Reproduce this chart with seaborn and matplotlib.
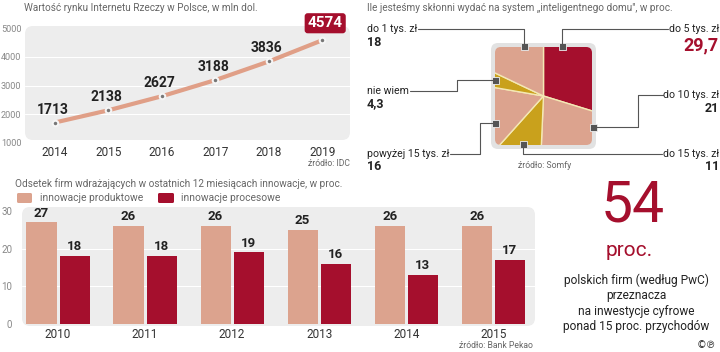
import pandas as pd
import seaborn as sns
import matplotlib.pyplot as plt
from matplotlib.patches import FancyBboxPatch, Rectangle

# --- data ---
iot_years = [2014, 2015, 2016, 2017, 2018, 2019]
iot_values = [1713, 2138, 2627, 3188, 3836, 4574]

home_labels = ["do 5 tys. zł", "do 10 tys. zł", "do 15 tys. zł",
               "powyżej 15 tys. zł", "nie wiem", "do 1 tys. zł"]
home_values = [29.7, 21, 11, 16, 4.3, 18]

innov_years = ["2010", "2011", "2012", "2013", "2014", "2015"]
product_innov = [27, 26, 26, 25, 26, 26]
process_innov = [18, 18, 19, 16, 13, 17]

SALMON = "#dca38e"
CRIMSON = "#a50f2d"
GOLD = "#c9a11c"
PANEL = "#ededed"
GRAY = "#666666"
DARK = "#222222"

W, H = 720, 352

sns.set_style("white")
plt.rcParams["font.family"] = ["Roboto", "DejaVu Sans"]

fig = plt.figure(figsize=(W / 100, H / 100), dpi=100)


def px_axes(x0, y0, x1, y1, z=1):
    ax = fig.add_axes([x0 / W, 1 - y1 / H, (x1 - x0) / W, (y1 - y0) / H], zorder=z)
    ax.set_facecolor("none")
    return ax


def overlay(z):
    ax = fig.add_axes([0, 0, 1, 1], zorder=z)
    ax.set_xlim(0, W)
    ax.set_ylim(H, 0)
    ax.axis("off")
    ax.set_facecolor("none")
    return ax


bg = overlay(-1)
fg = overlay(10)

# panels
bg.add_patch(FancyBboxPatch((25, 26), 325, 114, boxstyle="round,pad=0,rounding_size=8",
                            fc=PANEL, ec="none"))
bg.add_patch(FancyBboxPatch((22, 207), 513, 119, boxstyle="round,pad=0,rounding_size=8",
                            fc=PANEL, ec="none"))
bg.add_patch(FancyBboxPatch((491, 43), 105, 106, boxstyle="round,pad=0,rounding_size=7",
                            fc="#e2e2e2", ec="none"))

# --- line chart ---
ax1 = px_axes(25, 28, 350, 143)
df_iot = pd.DataFrame({"rok": iot_years, "wartosc": iot_values})
for g in [2000, 3000, 4000]:
    ax1.axhline(g, color="white", lw=0.8, zorder=0)
sns.lineplot(data=df_iot, x="rok", y="wartosc", ax=ax1, color="#e09f87", lw=3,
             marker="o", markersize=4, markerfacecolor="#777777",
             markeredgecolor="#f5f5f5", markeredgewidth=1.5)
ax1.set_xlim(2013.44, 2019.52)
ax1.set_ylim(1000, 5000)
ax1.set_xticks(iot_years)
ax1.set_yticks([1000, 2000, 3000, 4000, 5000])
ax1.tick_params(axis="x", length=0, pad=2, labelsize=8.5, labelcolor="#333333")
ax1.tick_params(axis="y", length=0, pad=2.5, labelsize=6.6, labelcolor="#888888")
ax1.set_xlabel("")
ax1.set_ylabel("")
sns.despine(ax=ax1, left=True, bottom=True)
for x, v in zip(iot_years, iot_values):
    if x == iot_years[-1]:
        ax1.annotate(str(v), (x, v), xytext=(3, 17), textcoords="offset pixels",
                     ha="center", va="center", fontsize=11, fontweight="bold",
                     color="white",
                     bbox=dict(boxstyle="round,pad=0.2", fc=CRIMSON, ec="none"))
    else:
        ax1.annotate(str(v), (x, v), xytext=(-2, 13), textcoords="offset pixels",
                     ha="center", va="center", fontsize=10, fontweight="bold",
                     color=DARK)

fg.text(24, 8, "Wartość rynku Internetu Rzeczy w Polsce, w mln dol.", fontsize=7.2,
        color=GRAY, va="center")
fg.text(350, 164, "źródło: IDC", fontsize=6.2, color=GRAY, ha="right", va="center")

# --- pie in a rounded square ---
axp = px_axes(495, 47, 592, 145, z=2)
wedges, _ = axp.pie(home_values, startangle=90, counterclock=False, radius=1.6,
                    colors=[CRIMSON, SALMON, GOLD, SALMON, GOLD, SALMON],
                    wedgeprops=dict(edgecolor="#f4e8b4", linewidth=1))
axp.set_aspect("auto")
axp.set_xlim(-1, 1)
axp.set_ylim(-1, 1)
clip = FancyBboxPatch((0, 0), 1, 1, boxstyle="round,pad=0,rounding_size=0.06",
                      transform=axp.transAxes, fc="none", ec="none")
axp.add_patch(clip)
for w in wedges:
    w.set_clip_on(True)
    w.set_clip_path(clip)

fg.text(367, 8, "Ile jesteśmy skłonni wydać na system „inteligentnego domu\", w proc.",
        fontsize=7.2, color=GRAY, va="center")

LC = "#555555"
leaders = [
    [(418, 29), (524, 29), (524, 46)],
    [(668, 29), (562, 29), (562, 46)],
    [(410, 91), (457, 91), (457, 80), (495, 80)],
    [(663, 95), (638, 95), (638, 127), (593, 127)],
    [(450, 154), (480, 154), (480, 123), (495, 123)],
    [(662, 154), (523, 154), (523, 144)],
]
for pts in leaders:
    xs, ys = zip(*pts)
    fg.plot(xs, ys, color=LC, lw=0.8)
    ex, ey = pts[-1]
    fg.add_patch(Rectangle((ex - 3.5, ey - 3.5), 7, 7, fc=LC, ec="#f0f0f0", lw=0.6))

val_txt = {lab: f"{v:g}".replace(".", ",") for lab, v in zip(home_labels, home_values)}
left_items = [("do 1 tys. zł", 29), ("nie wiem", 91), ("powyżej 15 tys. zł", 154)]
right_items = [("do 10 tys. zł", 95), ("do 15 tys. zł", 154)]
for lab, y in left_items:
    fg.text(367, y, lab, fontsize=7.6, color=DARK, va="center")
    fg.text(367, y + 13, val_txt[lab], fontsize=9, fontweight="bold", color=DARK,
            va="center")
for lab, y in right_items:
    fg.text(719, y, lab, fontsize=7.6, color=DARK, va="center", ha="right")
    fg.text(719, y + 13, val_txt[lab], fontsize=9, fontweight="bold", color=DARK,
            va="center", ha="right")
fg.text(719, 29, "do 5 tys. zł", fontsize=7.6, color=DARK, va="center", ha="right")
fg.text(719, 45, val_txt["do 5 tys. zł"], fontsize=13, fontweight="bold", color=CRIMSON,
        va="center", ha="right")
fg.text(545, 165, "źródło: Somfy", fontsize=6.2, color=GRAY, ha="center", va="center")

# --- bar chart ---
ax3 = px_axes(22, 211, 535, 324)
df_inn = pd.DataFrame({
    "rok": innov_years * 2,
    "odsetek": product_innov + process_innov,
    "rodzaj": ["innowacje produktowe"] * 6 + ["innowacje procesowe"] * 6,
})
for g in [10, 20]:
    ax3.axhline(g, color="white", lw=0.8, zorder=0)
sns.barplot(data=df_inn, x="rok", y="odsetek", hue="rodzaj",
            palette=[SALMON, CRIMSON], width=0.76, gap=0.09, ax=ax3,
            legend=False, edgecolor="none", saturation=1)
for cont in ax3.containers:
    ax3.bar_label(cont, padding=2, fontsize=9.5, fontweight="bold", color=DARK)
ax3.set_xlim(-0.414, 5.48)
ax3.set_ylim(0, 30)
ax3.set_yticks([0, 10, 20, 30])
ax3.tick_params(axis="x", length=0, pad=3, labelsize=8.5, labelcolor="#333333")
ax3.tick_params(axis="y", length=0, pad=7, labelsize=7, labelcolor="#888888")
ax3.set_xlabel("")
ax3.set_ylabel("")
sns.despine(ax=ax3, left=True, bottom=True)

fg.text(15, 184, "Odsetek firm wdrażających w ostatnich 12 miesiącach innowacje, w proc.",
        fontsize=7.2, color=GRAY, va="center")
fg.add_patch(FancyBboxPatch((17, 193), 15, 10, boxstyle="round,pad=0,rounding_size=1.5",
                            fc=SALMON, ec="none"))
fg.text(40, 198, "innowacje produktowe", fontsize=7.4, color=GRAY, va="center")
fg.add_patch(FancyBboxPatch((158, 193), 16, 10, boxstyle="round,pad=0,rounding_size=1.5",
                            fc=CRIMSON, ec="none"))
fg.text(181, 198, "innowacje procesowe", fontsize=7.4, color=GRAY, va="center")
fg.text(533, 346, "źródło: Bank Pekao", fontsize=6.2, color=GRAY, ha="right", va="center")

# --- big number ---
fg.text(633, 206, "54", fontsize=41, color=CRIMSON, ha="center", va="center")
fg.text(629, 250, "proc.", fontsize=15, color=CRIMSON, ha="center", va="center")
for i, line in enumerate(["polskich firm (według PwC)", "przeznacza",
                          "na inwestycje cyfrowe", "ponad 15 proc. przychodów"]):
    fg.text(636, 280 + 15.6 * i, line, fontsize=8.6, color=DARK, ha="center",
            va="center")
fg.text(706, 345, "©℗", fontsize=7, color=DARK, ha="center", va="center",
        family=["DejaVu Sans"])

fig.savefig("out.png", dpi=100)
